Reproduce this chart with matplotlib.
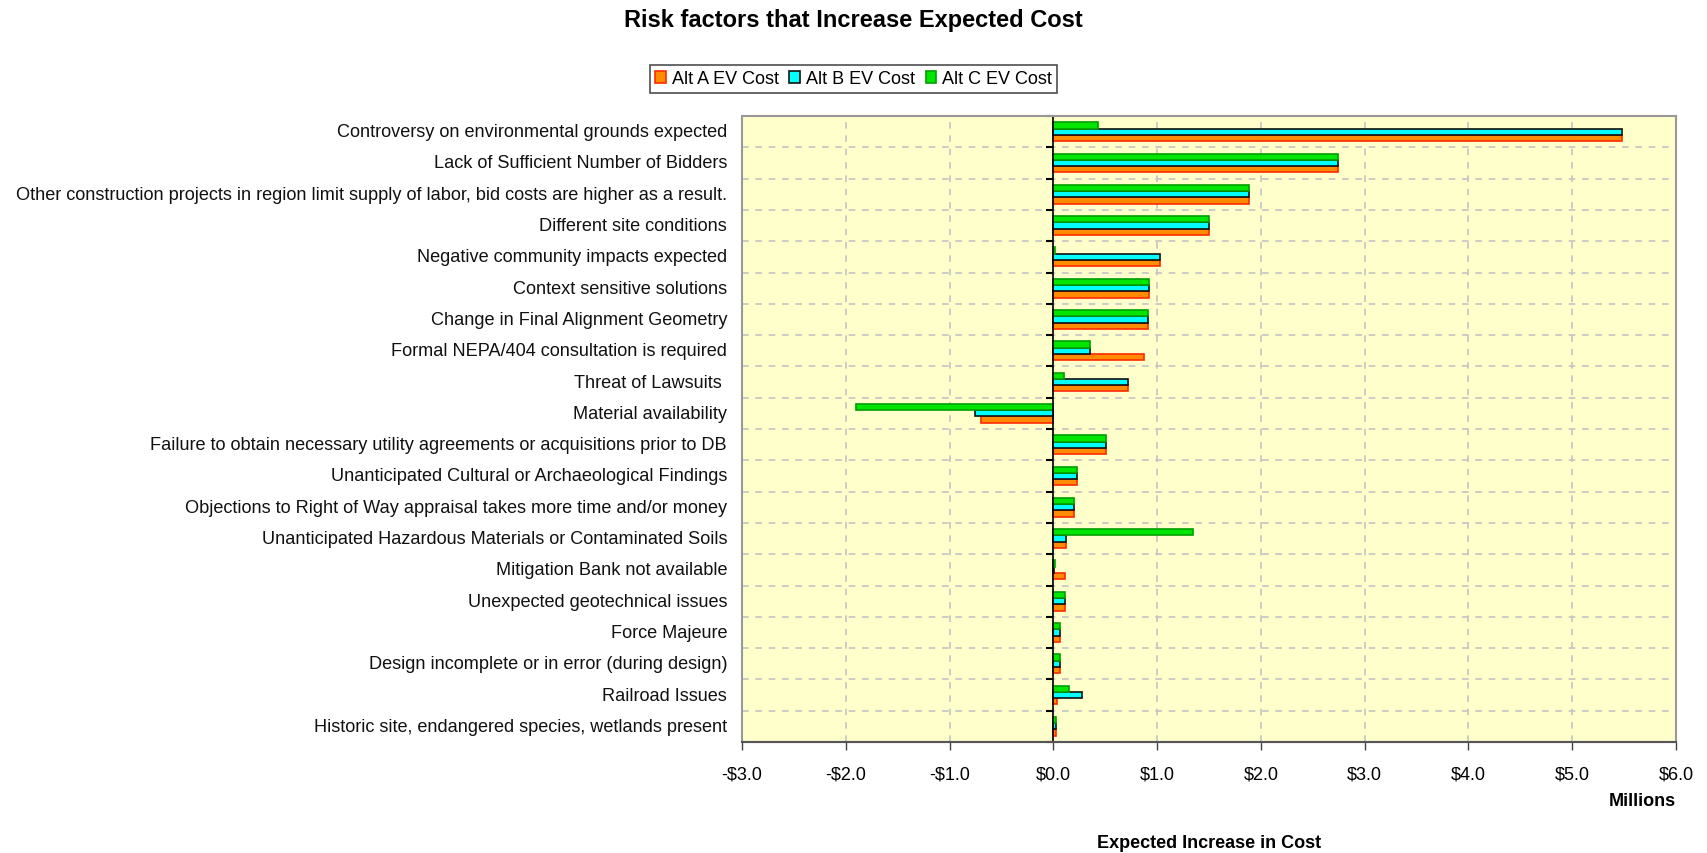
import numpy as np
import matplotlib
matplotlib.use('Agg')
import matplotlib.pyplot as plt
from matplotlib.patches import Patch, Rectangle

plt.rcParams['font.family'] = ['Liberation Sans', 'DejaVu Sans']

## Risk factors, top to bottom, with expected cost per alternative ($ millions)

risks = ['Controversy on environmental grounds expected',
         'Lack of Sufficient Number of Bidders',
         'Other construction projects in region limit supply of labor, bid costs are higher as a result.',
         'Different site conditions',
         'Negative community impacts expected',
         'Context sensitive solutions',
         'Change in Final Alignment Geometry',
         'Formal NEPA/404 consultation is required',
         'Threat of Lawsuits ',
         'Material availability',
         'Failure to obtain necessary utility agreements or acquisitions prior to DB',
         'Unanticipated Cultural or Archaeological Findings',
         'Objections to Right of Way appraisal takes more time and/or money',
         'Unanticipated Hazardous Materials or Contaminated Soils',
         'Mitigation Bank not available',
         'Unexpected geotechnical issues',
         'Force Majeure',
         'Design incomplete or in error (during design)',
         'Railroad Issues',
         'Historic site, endangered species, wetlands present']

alt_a = [5.48, 2.74, 1.89, 1.50, 1.03, 0.92, 0.91, 0.87, 0.72, -0.70,
         0.51, 0.23, 0.20, 0.12, 0.11, 0.11, 0.06, 0.06, 0.04, 0.03]
alt_b = [5.48, 2.74, 1.89, 1.50, 1.03, 0.92, 0.91, 0.35, 0.72, -0.75,
         0.51, 0.23, 0.20, 0.12, 0.01, 0.11, 0.06, 0.06, 0.28, 0.03]
alt_c = [0.43, 2.74, 1.89, 1.50, 0.02, 0.92, 0.91, 0.35, 0.10, -1.90,
         0.51, 0.23, 0.20, 1.35, 0.02, 0.11, 0.06, 0.06, 0.15, 0.03]

series = ['Alt A EV Cost', 'Alt B EV Cost', 'Alt C EV Cost']
x_ticks = np.arange(-3, 7)

## Colours: fill and outline for each alternative
fills = ['#ff8c00', '#00ffff', '#00e600']
edges = ['#ff2a00', '#111111', '#00a000']

fig = plt.figure(figsize=(17.07, 8.54), dpi=100)
ax = fig.add_axes([742/1707, 1 - 743/854, 934/1707, 626/854])
ax.set_facecolor('#ffffcc')

y = np.arange(len(risks))
h = 0.2

## Alt A drawn lowest in each group, Alt C on top
for vals, off, fc, ec in zip((alt_a, alt_b, alt_c), (h, 0, -h), fills, edges):
    ax.barh(y + off, vals, h, color=fc, edgecolor=ec, linewidth=1.2, zorder=3)

ax.set_xlim(-3, 6)
ax.set_ylim(len(risks) - 0.5, -0.5)

## Grid: dashed lines between categories and at each $1M
for b in np.arange(0.5, len(risks) - 0.5, 1):
    ax.axhline(b, color='#c4c4c4', ls=(0, (4, 4)), lw=1.2, zorder=1)
for t in x_ticks[1:-1]:
    ax.axvline(t, color='#c4c4c4', ls=(0, (4, 4)), lw=1.2, zorder=1)

## Category axis sits on zero with small ticks at the group boundaries
for s in ('top', 'right', 'bottom'):
    ax.spines[s].set_visible(False)
ax.spines['left'].set_position(('data', 0))
ax.spines['left'].set_color('black')
ax.spines['left'].set_linewidth(1.2)
ax.spines['left'].set_zorder(4)
ax.set_yticks(np.arange(-0.5, len(risks), 1))
ax.set_yticklabels([])
ax.tick_params(axis='y', length=5, width=1.5, color='black', direction='out')

ax.add_patch(Rectangle((0, 0), 1, 1, transform=ax.transAxes, fill=False,
                       edgecolor='#999999', lw=1.5, zorder=5, clip_on=False))
ax.plot([0, 1], [0, 0], transform=ax.transAxes, color='#555555', lw=1.5,
        zorder=6, clip_on=False)

for yi, name in zip(y, risks):
    ax.text(-0.016, yi, name, transform=ax.get_yaxis_transform(),
            ha='right', va='center', fontsize=13.1, color='#111111')

ax.set_xticks(x_ticks)
ax.set_xticklabels(['-$%.1f' % -t if t < 0 else '$%.1f' % t for t in x_ticks],
                   fontsize=13)
ax.tick_params(axis='x', length=6, width=1, color='#444444', pad=11)

fig.text(1676/1707, 1 - 802/854, 'Millions', ha='right', va='center',
         fontsize=13, fontweight='bold')
fig.text(1209/1707, 1 - 844/854, 'Expected Increase in Cost', ha='center',
         va='center', fontsize=13, fontweight='bold')
fig.text(0.5, 1 - 20/854, 'Risk factors that Increase Expected Cost',
         ha='center', va='center', fontsize=17, fontweight='bold')

handles = [Patch(facecolor=fc, edgecolor=ec, lw=1.2) for fc, ec in zip(fills, edges)]
leg = fig.legend(handles, series, loc='center', bbox_to_anchor=(0.5, 1 - 80/854),
                 ncol=3, fontsize=13, frameon=True, fancybox=False,
                 handlelength=0.6, handleheight=0.6, handletextpad=0.3,
                 columnspacing=0.6, borderpad=0.3, borderaxespad=0)
leg.get_frame().set_edgecolor('#222222')
leg.get_frame().set_linewidth(1.2)

fig.savefig('out.png', dpi=100, facecolor='white')
